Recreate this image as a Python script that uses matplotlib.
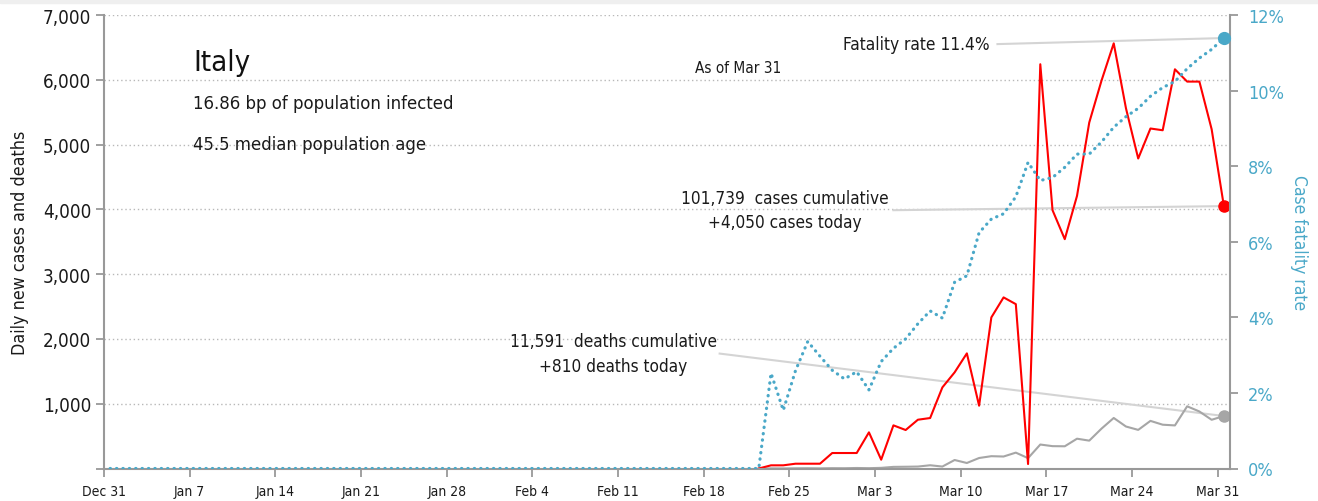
import numpy as np
import pandas as pd
import matplotlib
matplotlib.use("Agg")
import matplotlib.pyplot as plt
import matplotlib.dates as mdates
from matplotlib.patches import Rectangle
from matplotlib.ticker import FuncFormatter, MultipleLocator

plt.rcParams["font.family"] = ["Liberation Sans Narrow", "DejaVu Sans"]
plt.rcParams["font.stretch"] = "condensed"

country = "Italy"
as_of = "Mar 31"
infected_bp = 16.86
median_age = 45.5
cum_cases = 101739
cum_deaths = 11591

# daily new cases / deaths (one value per day from Feb 22)
daily_start = "2020-02-22"
new_cases = [0, 49, 49, 74, 74, 74, 239, 239, 239, 558, 136, 666, 594, 753, 779,
             1252, 1484, 1777, 969, 2332, 2641, 2537, 69, 6240, 3987, 3540, 4208,
             5340, 5986, 6563, 5560, 4785, 5248, 5221, 6162, 5972, 5972, 5237, 4050]
new_deaths = [0, 2, 1, 3, 4, 2, 5, 4, 8, 5, 10, 25, 27, 30, 50, 30, 131, 85, 162,
              190, 185, 245, 160, 370, 345, 343, 460, 430, 615, 780, 648, 596, 735,
              676, 665, 960, 880, 752, 810]

# case fatality rate in %, one value per day from Dec 31
rate_start = "2019-12-31"
fatality = [0.0] * 54 + [2.52, 1.54, 2.59, 3.36, 2.97, 2.60, 2.37, 2.56, 2.08, 2.83,
                         3.18, 3.43, 3.83, 4.17, 3.98, 4.93, 5.10, 6.24, 6.60, 6.74,
                         7.19, 8.10, 7.62, 7.70, 7.97, 8.32, 8.32, 8.64, 9.03, 9.31,
                         9.53, 9.85, 10.08, 10.24, 10.58, 10.86, 11.09, 11.39]

RED = "#ff0000"
GREY = "#a6a6a6"
BLUE = "#4aa8c8"
AXC = "#999999"
LEAD = "#d4d4d4"
INK = "#1a1a1a"

# points sit at noon of each day
noon = pd.Timedelta(hours=12)
x_daily = mdates.date2num(pd.date_range(daily_start, periods=len(new_cases), freq="D") + noon)
x_rate = mdates.date2num(pd.date_range(rate_start, periods=len(fatality), freq="D") + noon)

t0 = mdates.date2num(pd.Timestamp("2019-12-31"))


def day(n):
    return t0 + n


fig = plt.figure(figsize=(13.18, 5.02), dpi=100)
fig.patches.append(Rectangle((0, 1 - 4 / 502), 1, 4 / 502, transform=fig.transFigure,
                             color="#efefef", zorder=0))
ax = fig.add_axes([104 / 1318, 1 - 469.5 / 502, 1126 / 1318, 453.5 / 502])
ax2 = ax.twinx()

ax.plot(x_daily, new_deaths, color=GREY, lw=1.5, zorder=2)
ax.plot(x_daily, new_cases, color=RED, lw=1.5, zorder=2)
ax.plot(x_daily[-1], new_deaths[-1], "o", ms=8, color=GREY, clip_on=False, zorder=4)
ax.plot(x_daily[-1], new_cases[-1], "o", ms=8, color=RED, clip_on=False, zorder=4)

ax2.plot(x_rate, fatality, color=BLUE, lw=2.3, linestyle=(0, (0.1, 1.9)),
         dash_capstyle="round", zorder=3)
ax2.plot(x_rate[-1], fatality[-1], "o", ms=8.5, color=BLUE, clip_on=False, zorder=4)

# axes
ax.set_ylim(0, 7000)
ax2.set_ylim(0, 12)
ticks = pd.date_range("2019-12-31", "2020-03-31", freq="7D")
ax.set_xticks(mdates.date2num(ticks))
ax.set_xticklabels([f"{t:%b} {t.day}" for t in ticks])
ax.set_xlim(day(0), day(92))
ax.yaxis.set_major_locator(MultipleLocator(1000))
ax.yaxis.set_major_formatter(FuncFormatter(lambda v, p: "" if v == 0 else f"{v:,.0f}"))
ax2.yaxis.set_major_locator(MultipleLocator(2))
ax2.yaxis.set_major_formatter(FuncFormatter(lambda v, p: f"{v:.0f}%"))

ax.grid(axis="y", color="#b8b8b8", linestyle=(0, (1, 2)), lw=1)
ax.set_axisbelow(True)
for s in ["top", "right"]:
    ax.spines[s].set_visible(False)
for s in ["top", "left", "bottom"]:
    ax2.spines[s].set_visible(False)
for sp in [ax.spines["left"], ax.spines["bottom"], ax2.spines["right"]]:
    sp.set_color(AXC)
    sp.set_linewidth(1.5)

ax.tick_params(axis="both", color=AXC, length=6, width=1.3, labelcolor=INK)
ax.tick_params(axis="y", labelsize=13.5, pad=3)
ax.tick_params(axis="x", labelsize=10, pad=5)
ax2.tick_params(axis="y", color=AXC, length=6, width=1.3, labelcolor=BLUE,
                labelsize=13, pad=7)

ax.set_ylabel("Daily new cases and deaths", fontsize=12.8, color=INK, labelpad=10)
ax2.set_ylabel("Case fatality rate", fontsize=12.5, color=BLUE, rotation=270,
               va="bottom", labelpad=4)

# titles
ax.text(day(7.3), 6270, country, fontsize=21, va="center", color="#111111")
ax.text(day(7.3), 5637, f"{infected_bp:.2f} bp of population infected", fontsize=13.2,
        va="center", color=INK)
ax.text(day(7.3), 5005, f"{median_age} median population age", fontsize=13.2,
        va="center", color=INK)
ax.text(day(48.3), 6193, f"As of {as_of}", fontsize=11, va="center", color=INK)

# end labels with leader lines
ax2.text(day(72.4), 11.23, f"Fatality rate {fatality[-1]:.1f}%", fontsize=12.4,
         ha="right", va="center", color=INK)
ax2.plot([day(73.0), x_rate[-1]], [11.23, fatality[-1]], color=LEAD, lw=1.5, zorder=1)

ax.text(day(55.6), 3987, f"{cum_cases:,}  cases cumulative\n+{new_cases[-1]:,} cases today",
        fontsize=12.3, ha="center", va="center", linespacing=1.45, color=INK)
ax.plot([day(64.5), x_daily[-1]], [3987, new_cases[-1]], color=LEAD, lw=1.5, zorder=1)

ax.text(day(41.6), 1774, f"{cum_deaths:,}  deaths cumulative\n+{new_deaths[-1]:,} deaths today",
        fontsize=12.3, ha="center", va="center", linespacing=1.45, color=INK)
ax.plot([day(50.3), x_daily[-1]], [1774, new_deaths[-1]], color=LEAD, lw=1.5, zorder=1)

fig.savefig("out.png", dpi=100)
